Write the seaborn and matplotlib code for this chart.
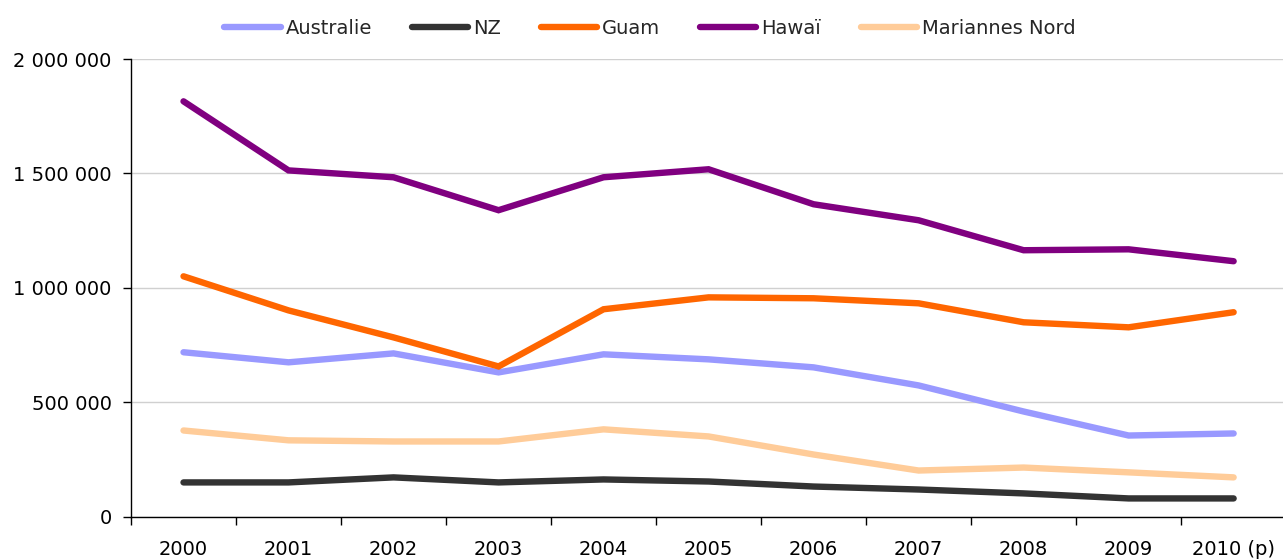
import numpy as np
import pandas as pd
import matplotlib
matplotlib.use("Agg")
import matplotlib.pyplot as plt
from matplotlib.ticker import FuncFormatter, MultipleLocator, FixedLocator
import seaborn as sns

years = ["2000", "2001", "2002", "2003", "2004", "2005",
         "2006", "2007", "2008", "2009", "2010 (p)"]

australie = [718000, 674000, 713000, 630000, 709000, 687000,
             652000, 573000, 459000, 354000, 363000]
nz = [149000, 149000, 171000, 149000, 162000, 153000,
      131000, 118000, 101000, 79000, 79000]
guam = [1050000, 901000, 783000, 656000, 906000, 958000,
        954000, 932000, 849000, 827000, 893000]
hawai = [1815000, 1513000, 1483000, 1339000, 1483000, 1518000,
         1365000, 1295000, 1164000, 1168000, 1116000]
mariannes = [376000, 333000, 328000, 328000, 381000, 350000,
             271000, 201000, 214000, 193000, 171000]

series_names = ["Australie", "NZ", "Guam", "Hawaï", "Mariannes Nord"]
series_values = [australie, nz, guam, hawai, mariannes]
colors = ["#9999FF", "#333333", "#FF6600", "#800080", "#FFCC99"]
widths = [4.7, 4.6, 3.0, 4.6, 4.6]

sns.set_theme(style="white")
plt.rcParams["font.family"] = ["DejaVu Sans"]

df = pd.DataFrame({
    "pos": np.tile(np.arange(len(years)), len(series_names)),
    "serie": np.repeat(series_names, len(years)),
    "valeur": np.concatenate(series_values),
})

fig = plt.figure(figsize=(12.83, 5.59), dpi=100)
ax = fig.add_axes([131 / 1283, 1 - 516.5 / 559, (1283 - 131) / 1283, (516.5 - 59) / 559])

for name, col, lw in zip(series_names, colors, widths):
    sns.lineplot(data=df[df["serie"] == name], x="pos", y="valeur", ax=ax,
                 color=col, linewidth=lw, label=name,
                 solid_capstyle="round", solid_joinstyle="miter")

ax.set_ylim(0, 2000000)
ax.set_xlim(-0.5, 10.47)
ax.yaxis.set_major_locator(MultipleLocator(500000))
ax.yaxis.set_major_formatter(FuncFormatter(lambda v, p: f"{int(v):,}".replace(",", " ")))
ax.grid(axis="y", color="#D0D0D0", linewidth=1)
ax.set_axisbelow(True)

ax.xaxis.set_major_locator(FixedLocator(np.arange(len(years))))
ax.set_xticklabels(years)
ax.xaxis.set_minor_locator(FixedLocator(np.arange(len(years)) - 0.5))
ax.tick_params(axis="x", which="major", length=0, pad=17, labelsize=14, colors="black")
ax.tick_params(axis="x", which="minor", length=6, width=1, direction="out",
               bottom=True, color="black")
ax.tick_params(axis="y", length=6, width=1, direction="out", left=True,
               pad=8, labelsize=14, colors="black")

ax.set_xlabel("")
ax.set_ylabel("")
for side in ["top", "right"]:
    ax.spines[side].set_visible(False)
for side in ["left", "bottom"]:
    ax.spines[side].set_color("black")
    ax.spines[side].set_linewidth(1)

handles, labels = ax.get_legend_handles_labels()
ax.get_legend().remove()
for h in handles:
    h.set_linewidth(4.6)
    h.set_solid_capstyle("round")
fig.legend(handles, labels, loc="center", bbox_to_anchor=(650 / 1283, 1 - 28 / 559),
           ncol=5, frameon=False, fontsize=14, handlelength=2.9,
           handletextpad=0.25, columnspacing=2.05)

fig.savefig("out.png", dpi=100)
